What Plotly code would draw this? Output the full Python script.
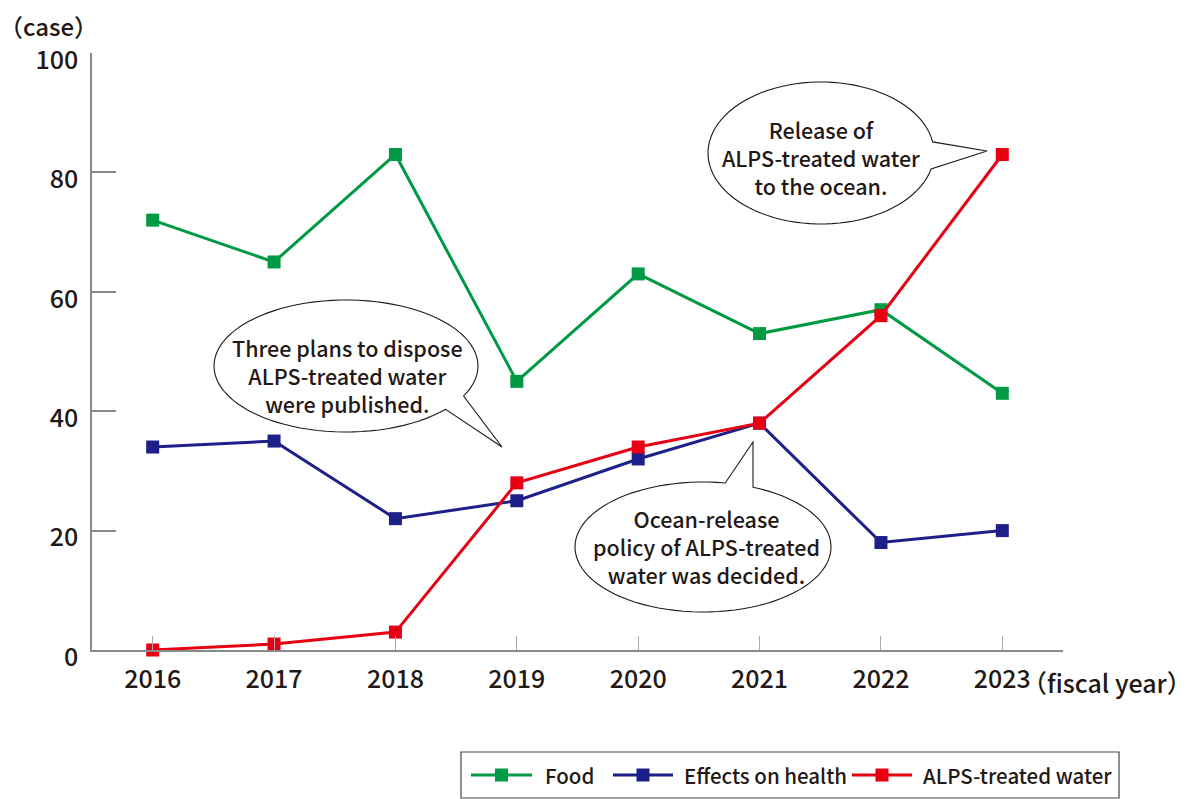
import math
import plotly.graph_objects as go

# ---------------- data ----------------
years = [2016, 2017, 2018, 2019, 2020, 2021, 2022, 2023]
food = [72, 65, 83, 45, 63, 53, 57, 43]
health = [34, 35, 22, 25, 32, 38, 18, 20]
alps = [0, 1, 3, 28, 34, 38, 56, 83]
series_names = ["Food", "Effects on health", "ALPS-treated water"]
series_colors = ["#009944", "#1d2088", "#e60012"]
y_ticks = [0, 20, 40, 60, 80, 100]
y_title = "（case）"
x_title = "（fiscal year）"
note_lines = [
    ["Release of", "ALPS-treated water", "to the ocean."],
    ["Three plans to dispose", "ALPS-treated water", "were published."],
    ["Ocean-release", "policy of ALPS-treated", "water was decided."],
]

# ---------------- layout geometry ----------------
W, H = 1189, 799
L, R, T, B = 92, 126, 53, 149
PW, PH = W - L - R, H - T - B
X0, X1 = 2015.5, 2023.5
Y0, Y1 = 0, 100
FONT = "Noto Sans CJK JP, Noto Sans, sans-serif"
TXT = "#231815"
WEIGHT = 500


def px2data(px, py):
    return X0 + (px - L) / PW * (X1 - X0), Y0 + (T + PH - py) / PH * (Y1 - Y0)


def px2paper(px, py):
    return (px - L) / PW, (T + PH - py) / PH


fig = go.Figure()
for name, vals, col in zip(series_names, [food, health, alps], series_colors):
    fig.add_trace(go.Scatter(
        x=years, y=vals, name=name, mode="lines+markers",
        line=dict(color=col, width=3),
        marker=dict(symbol="square", size=13, color=col),
        showlegend=False, cliponaxis=False,
    ))

shapes = []
annotations = []


def bubble(cx, cy, rx, ry, g1, g2, tip, lines, tx, ty):
    pts = []
    n = 90
    a_start, a_end = g2, g1 + 360
    for i in range(n + 1):
        a = math.radians(a_start + (a_end - a_start) * i / n)
        pts.append(px2data(cx + rx * math.cos(a), cy + ry * math.sin(a)))
    pts.append(px2data(*tip))
    path = "M " + " L ".join(f"{x:.5f},{y:.4f}" for x, y in pts) + " Z"
    shapes.append(dict(type="path", xref="x", yref="y", path=path,
                       fillcolor="white", line=dict(color=TXT, width=1.1),
                       layer="above"))
    ax, ay = px2data(tx, ty)
    annotations.append(dict(x=ax, y=ay, xref="x", yref="y", text="<br>".join(lines),
                            showarrow=False, align="center",
                            xanchor="center", yanchor="middle",
                            font=dict(family=FONT, size=21.5, color=TXT,
                                      weight=WEIGHT)))


bubble(821, 153, 113, 71, -9, 13, (987, 151), note_lines[0], 821, 157)
bubble(346, 366, 132, 66, 27, 41, (502, 447), note_lines[1], 347, 375)
bubble(703, 547, 128, 65, -80, -67, (753, 442), note_lines[2], 706, 546)

# axis titles
ax_, ay_ = px2paper(-3, 25)
annotations.append(dict(x=ax_, y=ay_, xref="paper", yref="paper", text=y_title,
                        showarrow=False, xanchor="left", yanchor="middle",
                        font=dict(family=FONT, size=24, color=TXT, weight=WEIGHT)))
ax_, ay_ = px2paper(1020, 682)
annotations.append(dict(x=ax_, y=ay_, xref="paper", yref="paper", text=x_title,
                        showarrow=False, xanchor="left", yanchor="middle",
                        font=dict(family=FONT, size=25, color=TXT, weight=WEIGHT)))

# legend (drawn manually)
bx0, by0 = px2paper(461, 752)
bx1, by1 = px2paper(1119, 798)
shapes.append(dict(type="rect", xref="paper", yref="paper", x0=bx0, y0=by0,
                   x1=bx1, y1=by1, line=dict(color="#444", width=1.2),
                   fillcolor="white", layer="below"))
leg_items = [(471, 532, 543), (613, 673, 682), (852, 912, 921)]
ly = 775
for (lx0, lx1, tx), name, col in zip(leg_items, series_names, series_colors):
    x0p, yp = px2paper(lx0, ly)
    x1p, _ = px2paper(lx1, ly)
    shapes.append(dict(type="line", xref="paper", yref="paper", x0=x0p, x1=x1p,
                       y0=yp, y1=yp, line=dict(color=col, width=3)))
    mx = (lx0 + lx1) / 2
    m0 = px2paper(mx - 6.5, ly + 6.5)
    m1 = px2paper(mx + 6.5, ly - 6.5)
    shapes.append(dict(type="rect", xref="paper", yref="paper", x0=m0[0], y0=m0[1],
                       x1=m1[0], y1=m1[1], fillcolor=col, line=dict(width=0)))
    tp = px2paper(tx, ly)
    annotations.append(dict(x=tp[0], y=tp[1], xref="paper", yref="paper", text=name,
                            showarrow=False, xanchor="left", yanchor="middle",
                            font=dict(family=FONT, size=20.5, color=TXT, weight=WEIGHT)))

fig.update_layout(
    width=W, height=H,
    margin=dict(l=L, r=R, t=T, b=B, pad=0),
    paper_bgcolor="white", plot_bgcolor="white",
    font=dict(family=FONT, color=TXT),
    shapes=shapes, annotations=annotations,
    xaxis=dict(range=[X0, X1], tickvals=years, ticktext=[str(y) for y in years],
               showgrid=False, zeroline=False, showline=True,
               linecolor="#8a8a8a", linewidth=1.5,
               ticks="inside", ticklen=14, tickcolor="#aaaaaa", tickwidth=1,
               ticklabelstandoff=6,
               tickfont=dict(family=FONT, size=25, color=TXT, weight=WEIGHT)),
    yaxis=dict(range=[Y0, Y1], tickvals=y_ticks,
               showgrid=False, zeroline=False, showline=True,
               linecolor="#8a8a8a", linewidth=1.5,
               ticks="inside", ticklen=24, tickcolor="#8a8a8a", tickwidth=1.5,
               ticklabelstandoff=7, ticklabelshift=7,
               tickfont=dict(family=FONT, size=25, color=TXT, weight=WEIGHT)),
)

fig.write_html("out.html")
